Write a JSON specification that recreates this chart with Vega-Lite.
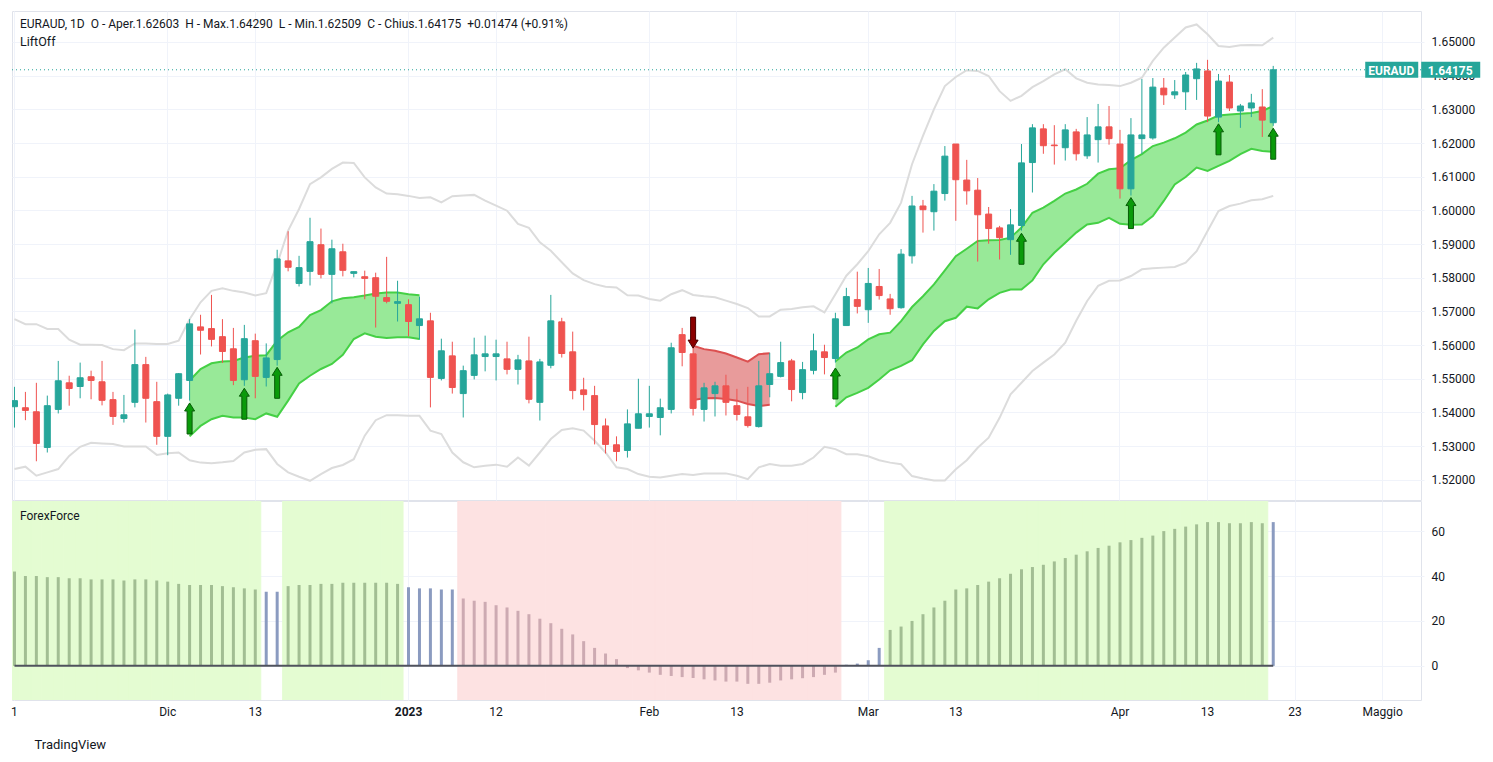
{
"$schema": "https://vega.github.io/schema/vega-lite/v6.json",
"background": "#ffffff",
"padding": {"left": 10, "top": 10, "right": 0, "bottom": 0},
"spacing": 1,
"bounds": "flush",
"config": {
  "font": "Roboto",
  "view": {"stroke": "#e0e3eb", "strokeWidth": 1},
  "axis": {"labelFont": "Roboto", "labelFontSize": 12, "labelColor": "#131722", "gridColor": "#f0f3fa", "gridWidth": 1, "domain": false, "ticks": false, "labelOverlap": false, "labelSeparation": 0},
  "axisY": {"labelOverlap": false},
  "axisRight": {"labelOverlap": false},
  "title": {"font": "Roboto", "subtitleFont": "Roboto"}
},
"datasets": {
"px": [
{"d":"2022-11-11","o":1.5417,"h":1.5476,"l":1.5355,"c":1.5435,"ub":1.5677,"lb":1.5232,"ff":42,"z":"g"},
{"d":"2022-11-14","o":1.5414,"h":1.5461,"l":1.5377,"c":1.5406,"ub":1.5662,"lb":1.5239,"ff":40,"z":"g"},
{"d":"2022-11-15","o":1.5402,"h":1.5488,"l":1.5255,"c":1.5308,"ub":1.5662,"lb":1.5212,"ff":40,"z":"g"},
{"d":"2022-11-16","o":1.5296,"h":1.5450,"l":1.5281,"c":1.5420,"ub":1.5648,"lb":1.5222,"ff":39.5,"z":"g"},
{"d":"2022-11-17","o":1.5409,"h":1.5553,"l":1.5397,"c":1.5494,"ub":1.5648,"lb":1.5232,"ff":39.5,"z":"g"},
{"d":"2022-11-18","o":1.5488,"h":1.5509,"l":1.5420,"c":1.5471,"ub":1.5616,"lb":1.5271,"ff":39,"z":"g"},
{"d":"2022-11-21","o":1.5477,"h":1.5548,"l":1.5442,"c":1.5503,"ub":1.5601,"lb":1.5298,"ff":39,"z":"g"},
{"d":"2022-11-22","o":1.5506,"h":1.5524,"l":1.5439,"c":1.5495,"ub":1.5601,"lb":1.5310,"ff":38.5,"z":"g"},
{"d":"2022-11-23","o":1.5491,"h":1.5553,"l":1.5421,"c":1.5436,"ub":1.5600,"lb":1.5308,"ff":38.5,"z":"g"},
{"d":"2022-11-24","o":1.5438,"h":1.5461,"l":1.5363,"c":1.5388,"ub":1.5588,"lb":1.5306,"ff":38.5,"z":"g"},
{"d":"2022-11-25","o":1.5382,"h":1.5452,"l":1.5370,"c":1.5393,"ub":1.5585,"lb":1.5299,"ff":38,"z":"g"},
{"d":"2022-11-28","o":1.5430,"h":1.5646,"l":1.5415,"c":1.5542,"ub":1.5605,"lb":1.5299,"ff":38.5,"z":"g"},
{"d":"2022-11-29","o":1.5542,"h":1.5565,"l":1.5370,"c":1.5442,"ub":1.5605,"lb":1.5299,"ff":38.5,"z":"g"},
{"d":"2022-11-30","o":1.5432,"h":1.5491,"l":1.5304,"c":1.5329,"ub":1.5603,"lb":1.5274,"ff":38,"z":"g"},
{"d":"2022-12-01","o":1.5329,"h":1.5456,"l":1.5273,"c":1.5452,"ub":1.5603,"lb":1.5279,"ff":37.5,"z":"g"},
{"d":"2022-12-02","o":1.5442,"h":1.5517,"l":1.5420,"c":1.5515,"ub":1.5613,"lb":1.5281,"ff":36.5,"z":"g"},
{"d":"2022-12-05","o":1.5495,"h":1.5677,"l":1.5435,"c":1.5663,"ub":1.5677,"lb":1.5258,"cu":1.5495,"cl":1.5329,"seg":"g1","cz":"g","ff":36,"z":"g","at":1.5428,"dir":"up"},
{"d":"2022-12-06","o":1.5654,"h":1.5690,"l":1.5572,"c":1.5644,"ub":1.5727,"lb":1.5251,"cu":1.5529,"cl":1.5360,"seg":"g1","cz":"g","ff":36,"z":"g"},
{"d":"2022-12-07","o":1.5649,"h":1.5749,"l":1.5596,"c":1.5617,"ub":1.5761,"lb":1.5249,"cu":1.5546,"cl":1.5380,"seg":"g1","cz":"g","ff":36,"z":"g"},
{"d":"2022-12-08","o":1.5625,"h":1.5677,"l":1.5547,"c":1.5581,"ub":1.5769,"lb":1.5252,"cu":1.5551,"cl":1.5390,"seg":"g1","cz":"g","ff":35.5,"z":"g"},
{"d":"2022-12-09","o":1.5589,"h":1.5651,"l":1.5481,"c":1.5495,"ub":1.5761,"lb":1.5256,"cu":1.5553,"cl":1.5385,"seg":"g1","cz":"g","ff":35,"z":"g"},
{"d":"2022-12-12","o":1.5497,"h":1.5660,"l":1.5479,"c":1.5619,"ub":1.5756,"lb":1.5281,"cu":1.5563,"cl":1.5385,"seg":"g1","cz":"g","ff":34.5,"z":"g","at":1.5472,"dir":"up"},
{"d":"2022-12-13","o":1.5613,"h":1.5634,"l":1.5442,"c":1.5507,"ub":1.5747,"lb":1.5289,"cu":1.5568,"cl":1.5380,"seg":"g1","cz":"g","ff":34,"z":"g"},
{"d":"2022-12-14","o":1.5504,"h":1.5605,"l":1.5477,"c":1.5562,"ub":1.5754,"lb":1.5291,"cu":1.5570,"cl":1.5397,"seg":"g1","cz":"g","ff":33,"z":"n"},
{"d":"2022-12-15","o":1.5557,"h":1.5883,"l":1.5539,"c":1.5856,"ub":1.5841,"lb":1.5247,"cu":1.5613,"cl":1.5387,"seg":"g1","cz":"g","ff":33,"z":"n","at":1.5534,"dir":"up"},
{"d":"2022-12-16","o":1.5850,"h":1.5938,"l":1.5819,"c":1.5831,"ub":1.5940,"lb":1.5222,"cu":1.5638,"cl":1.5435,"seg":"g1","cz":"g","ff":35.5,"z":"g"},
{"d":"2022-12-19","o":1.5783,"h":1.5865,"l":1.5774,"c":1.5830,"ub":1.6004,"lb":1.5209,"cu":1.5654,"cl":1.5486,"seg":"g1","cz":"g","ff":36,"z":"g"},
{"d":"2022-12-20","o":1.5819,"h":1.5978,"l":1.5777,"c":1.5907,"ub":1.6078,"lb":1.5197,"cu":1.5689,"cl":1.5509,"seg":"g1","cz":"g","ff":36,"z":"g"},
{"d":"2022-12-21","o":1.5898,"h":1.5946,"l":1.5798,"c":1.5810,"ub":1.6098,"lb":1.5217,"cu":1.5704,"cl":1.5529,"seg":"g1","cz":"g","ff":36.5,"z":"g"},
{"d":"2022-12-22","o":1.5810,"h":1.5913,"l":1.5724,"c":1.5886,"ub":1.6123,"lb":1.5235,"cu":1.5730,"cl":1.5544,"seg":"g1","cz":"g","ff":36.5,"z":"g"},
{"d":"2022-12-23","o":1.5877,"h":1.5901,"l":1.5804,"c":1.5822,"ub":1.6142,"lb":1.5244,"cu":1.5739,"cl":1.5571,"seg":"g1","cz":"g","ff":37,"z":"g"},
{"d":"2022-12-26","o":1.5813,"h":1.5818,"l":1.5801,"c":1.5818,"ub":1.6141,"lb":1.5261,"cu":1.5742,"cl":1.5618,"seg":"g1","cz":"g","ff":37,"z":"g"},
{"d":"2022-12-27","o":1.5803,"h":1.5821,"l":1.5736,"c":1.5798,"ub":1.6098,"lb":1.5331,"cu":1.5747,"cl":1.5635,"seg":"g1","cz":"g","ff":37,"z":"g"},
{"d":"2022-12-28","o":1.5800,"h":1.5815,"l":1.5652,"c":1.5745,"ub":1.6068,"lb":1.5377,"cu":1.5753,"cl":1.5625,"seg":"g1","cz":"g","ff":37,"z":"g"},
{"d":"2022-12-29","o":1.5741,"h":1.5862,"l":1.5724,"c":1.5730,"ub":1.6050,"lb":1.5392,"cu":1.5756,"cl":1.5621,"seg":"g1","cz":"g","ff":37,"z":"g"},
{"d":"2022-12-30","o":1.5724,"h":1.5791,"l":1.5670,"c":1.5729,"ub":1.6048,"lb":1.5392,"cu":1.5756,"cl":1.5623,"seg":"g1","cz":"g","ff":36.5,"z":"g"},
{"d":"2023-01-02","o":1.5720,"h":1.5736,"l":1.5626,"c":1.5670,"ub":1.6043,"lb":1.5390,"cu":1.5751,"cl":1.5623,"seg":"g1","cz":"g","ff":35,"z":"n"},
{"d":"2023-01-03","o":1.5658,"h":1.5744,"l":1.5616,"c":1.5678,"ub":1.6037,"lb":1.5390,"cu":1.5748,"cl":1.5618,"seg":"g1","cz":"g","ff":34.5,"z":"n"},
{"d":"2023-01-04","o":1.5672,"h":1.5696,"l":1.5415,"c":1.5504,"ub":1.6039,"lb":1.5346,"ff":34.5,"z":"n"},
{"d":"2023-01-05","o":1.5501,"h":1.5619,"l":1.5495,"c":1.5583,"ub":1.6024,"lb":1.5336,"ff":34,"z":"n"},
{"d":"2023-01-06","o":1.5568,"h":1.5610,"l":1.5456,"c":1.5474,"ub":1.6042,"lb":1.5281,"ff":34,"z":"n"},
{"d":"2023-01-09","o":1.5456,"h":1.5539,"l":1.5385,"c":1.5524,"ub":1.6044,"lb":1.5252,"ff":30,"z":"r"},
{"d":"2023-01-10","o":1.5510,"h":1.5622,"l":1.5498,"c":1.5571,"ub":1.6046,"lb":1.5237,"ff":29,"z":"r"},
{"d":"2023-01-11","o":1.5566,"h":1.5628,"l":1.5522,"c":1.5574,"ub":1.6029,"lb":1.5242,"ff":28.5,"z":"r"},
{"d":"2023-01-12","o":1.5566,"h":1.5616,"l":1.5495,"c":1.5574,"ub":1.6014,"lb":1.5245,"ff":27,"z":"r"},
{"d":"2023-01-13","o":1.5559,"h":1.5610,"l":1.5513,"c":1.5528,"ub":1.5999,"lb":1.5239,"ff":26,"z":"r"},
{"d":"2023-01-16","o":1.5528,"h":1.5571,"l":1.5483,"c":1.5556,"ub":1.5960,"lb":1.5266,"ff":24.5,"z":"r"},
{"d":"2023-01-17","o":1.5553,"h":1.5625,"l":1.5427,"c":1.5439,"ub":1.5948,"lb":1.5242,"ff":23,"z":"r"},
{"d":"2023-01-18","o":1.5430,"h":1.5559,"l":1.5376,"c":1.5550,"ub":1.5905,"lb":1.5281,"ff":21,"z":"r"},
{"d":"2023-01-19","o":1.5540,"h":1.5749,"l":1.5531,"c":1.5672,"ub":1.5880,"lb":1.5321,"ff":19,"z":"r"},
{"d":"2023-01-20","o":1.5669,"h":1.5681,"l":1.5563,"c":1.5575,"ub":1.5846,"lb":1.5348,"ff":16.5,"z":"r"},
{"d":"2023-01-23","o":1.5580,"h":1.5640,"l":1.5439,"c":1.5465,"ub":1.5813,"lb":1.5353,"ff":14,"z":"r"},
{"d":"2023-01-24","o":1.5467,"h":1.5503,"l":1.5406,"c":1.5453,"ub":1.5793,"lb":1.5346,"ff":11,"z":"r"},
{"d":"2023-01-25","o":1.5450,"h":1.5479,"l":1.5305,"c":1.5364,"ub":1.5781,"lb":1.5316,"ff":8,"z":"r"},
{"d":"2023-01-26","o":1.5360,"h":1.5382,"l":1.5278,"c":1.5305,"ub":1.5773,"lb":1.5281,"ff":5.5,"z":"r"},
{"d":"2023-01-27","o":1.5304,"h":1.5329,"l":1.5255,"c":1.5284,"ub":1.5771,"lb":1.5237,"ff":3,"z":"r"},
{"d":"2023-01-30","o":1.5287,"h":1.5409,"l":1.5266,"c":1.5366,"ub":1.5748,"lb":1.5232,"ff":-1,"z":"r"},
{"d":"2023-01-31","o":1.5353,"h":1.5500,"l":1.5353,"c":1.5396,"ub":1.5747,"lb":1.5217,"ff":-2,"z":"r"},
{"d":"2023-02-01","o":1.5388,"h":1.5479,"l":1.5355,"c":1.5396,"ub":1.5737,"lb":1.5209,"ff":-3,"z":"r"},
{"d":"2023-02-02","o":1.5385,"h":1.5441,"l":1.5332,"c":1.5414,"ub":1.5732,"lb":1.5207,"ff":-4,"z":"r"},
{"d":"2023-02-03","o":1.5409,"h":1.5607,"l":1.5397,"c":1.5592,"ub":1.5751,"lb":1.5212,"ff":-4.5,"z":"r"},
{"d":"2023-02-06","o":1.5631,"h":1.5651,"l":1.5537,"c":1.5578,"ub":1.5763,"lb":1.5217,"ff":-5,"z":"r"},
{"d":"2023-02-07","o":1.5574,"h":1.5598,"l":1.5391,"c":1.5412,"ub":1.5749,"lb":1.5214,"cu":1.5598,"cl":1.5437,"seg":"r1","cz":"r","ff":-5.4,"z":"r","at":1.5591,"dir":"down"},
{"d":"2023-02-08","o":1.5409,"h":1.5488,"l":1.5373,"c":1.5473,"ub":1.5745,"lb":1.5219,"cu":1.5588,"cl":1.5442,"seg":"r1","cz":"r","ff":-6,"z":"r"},
{"d":"2023-02-09","o":1.5456,"h":1.5491,"l":1.5388,"c":1.5479,"ub":1.5742,"lb":1.5219,"cu":1.5583,"cl":1.5443,"seg":"r1","cz":"r","ff":-6.5,"z":"r"},
{"d":"2023-02-10","o":1.5479,"h":1.5512,"l":1.5391,"c":1.5430,"ub":1.5732,"lb":1.5219,"cu":1.5575,"cl":1.5440,"seg":"r1","cz":"r","ff":-7,"z":"r"},
{"d":"2023-02-13","o":1.5420,"h":1.5470,"l":1.5376,"c":1.5394,"ub":1.5722,"lb":1.5212,"cu":1.5563,"cl":1.5435,"seg":"r1","cz":"r","ff":-7,"z":"r"},
{"d":"2023-02-14","o":1.5387,"h":1.5476,"l":1.5355,"c":1.5361,"ub":1.5710,"lb":1.5202,"cu":1.5551,"cl":1.5425,"seg":"r1","cz":"r","ff":-8,"z":"r"},
{"d":"2023-02-15","o":1.5358,"h":1.5553,"l":1.5355,"c":1.5479,"ub":1.5685,"lb":1.5237,"cu":1.5573,"cl":1.5419,"seg":"r1","cz":"r","ff":-8,"z":"r"},
{"d":"2023-02-16","o":1.5483,"h":1.5577,"l":1.5445,"c":1.5515,"ub":1.5685,"lb":1.5247,"cu":1.5576,"cl":1.5423,"seg":"r1","cz":"r","ff":-7.5,"z":"r"},
{"d":"2023-02-17","o":1.5507,"h":1.5610,"l":1.5504,"c":1.5548,"ub":1.5705,"lb":1.5242,"ff":-6.5,"z":"r"},
{"d":"2023-02-20","o":1.5553,"h":1.5559,"l":1.5433,"c":1.5468,"ub":1.5707,"lb":1.5242,"ff":-6,"z":"r"},
{"d":"2023-02-21","o":1.5459,"h":1.5550,"l":1.5439,"c":1.5527,"ub":1.5712,"lb":1.5247,"ff":-5.5,"z":"r"},
{"d":"2023-02-22","o":1.5525,"h":1.5634,"l":1.5513,"c":1.5583,"ub":1.5715,"lb":1.5266,"ff":-5,"z":"r"},
{"d":"2023-02-23","o":1.5580,"h":1.5601,"l":1.5513,"c":1.5563,"ub":1.5697,"lb":1.5298,"ff":-4,"z":"r"},
{"d":"2023-02-24","o":1.5560,"h":1.5696,"l":1.5548,"c":1.5678,"ub":1.5751,"lb":1.5291,"cu":1.5551,"cl":1.5417,"seg":"g2","cz":"g","ff":-3,"z":"r","at":1.5532,"dir":"up"},
{"d":"2023-02-27","o":1.5658,"h":1.5770,"l":1.5658,"c":1.5744,"ub":1.5806,"lb":1.5276,"cu":1.5578,"cl":1.5445,"seg":"g2","cz":"g","ff":0.5,"z":"n"},
{"d":"2023-02-28","o":1.5735,"h":1.5818,"l":1.5694,"c":1.5715,"ub":1.5840,"lb":1.5276,"cu":1.5593,"cl":1.5458,"seg":"g2","cz":"g","ff":1,"z":"n"},
{"d":"2023-03-01","o":1.5705,"h":1.5829,"l":1.5666,"c":1.5783,"ub":1.5879,"lb":1.5270,"cu":1.5617,"cl":1.5473,"seg":"g2","cz":"g","ff":2.5,"z":"n"},
{"d":"2023-03-02","o":1.5774,"h":1.5826,"l":1.5735,"c":1.5747,"ub":1.5929,"lb":1.5258,"cu":1.5632,"cl":1.5498,"seg":"g2","cz":"g","ff":8,"z":"n"},
{"d":"2023-03-03","o":1.5737,"h":1.5752,"l":1.5690,"c":1.5708,"ub":1.5963,"lb":1.5251,"cu":1.5637,"cl":1.5525,"seg":"g2","cz":"g","ff":16,"z":"g"},
{"d":"2023-03-06","o":1.5711,"h":1.5885,"l":1.5708,"c":1.5870,"ub":1.6023,"lb":1.5246,"cu":1.5671,"cl":1.5538,"seg":"g2","cz":"g","ff":17.5,"z":"g"},
{"d":"2023-03-07","o":1.5865,"h":1.6043,"l":1.5842,"c":1.6013,"ub":1.6137,"lb":1.5211,"cu":1.5713,"cl":1.5555,"seg":"g2","cz":"g","ff":20,"z":"g"},
{"d":"2023-03-08","o":1.6013,"h":1.6031,"l":1.5934,"c":1.6002,"ub":1.6221,"lb":1.5204,"cu":1.5745,"cl":1.5602,"seg":"g2","cz":"g","ff":23,"z":"g"},
{"d":"2023-03-09","o":1.5996,"h":1.6078,"l":1.5940,"c":1.6057,"ub":1.6300,"lb":1.5198,"cu":1.5780,"cl":1.5642,"seg":"g2","cz":"g","ff":26,"z":"g"},
{"d":"2023-03-10","o":1.6050,"h":1.6191,"l":1.6029,"c":1.6161,"ub":1.6369,"lb":1.5198,"cu":1.5822,"cl":1.5671,"seg":"g2","cz":"g","ff":29,"z":"g"},
{"d":"2023-03-13","o":1.6197,"h":1.6197,"l":1.5969,"c":1.6091,"ub":1.6396,"lb":1.5231,"cu":1.5864,"cl":1.5681,"seg":"g2","cz":"g","ff":34,"z":"g"},
{"d":"2023-03-14","o":1.6090,"h":1.6150,"l":1.6017,"c":1.6058,"ub":1.6416,"lb":1.5258,"cu":1.5886,"cl":1.5714,"seg":"g2","cz":"g","ff":34.5,"z":"g"},
{"d":"2023-03-15","o":1.6060,"h":1.6096,"l":1.5848,"c":1.5987,"ub":1.6414,"lb":1.5295,"cu":1.5909,"cl":1.5709,"seg":"g2","cz":"g","ff":36,"z":"g"},
{"d":"2023-03-16","o":1.5989,"h":1.6010,"l":1.5901,"c":1.5946,"ub":1.6399,"lb":1.5325,"cu":1.5911,"cl":1.5736,"seg":"g2","cz":"g","ff":37.5,"z":"g"},
{"d":"2023-03-17","o":1.5948,"h":1.5954,"l":1.5854,"c":1.5919,"ub":1.6354,"lb":1.5384,"cu":1.5912,"cl":1.5755,"seg":"g2","cz":"g","ff":39,"z":"g"},
{"d":"2023-03-20","o":1.5913,"h":1.6004,"l":1.5868,"c":1.5957,"ub":1.6325,"lb":1.5454,"cu":1.5919,"cl":1.5765,"seg":"g2","cz":"g","ff":41,"z":"g"},
{"d":"2023-03-21","o":1.5955,"h":1.6197,"l":1.5940,"c":1.6141,"ub":1.6340,"lb":1.5488,"cu":1.5949,"cl":1.5765,"seg":"g2","cz":"g","ff":43,"z":"g","at":1.5932,"dir":"up"},
{"d":"2023-03-22","o":1.6142,"h":1.6256,"l":1.6053,"c":1.6245,"ub":1.6366,"lb":1.5523,"cu":1.5993,"cl":1.5792,"seg":"g2","cz":"g","ff":44,"z":"g"},
{"d":"2023-03-23","o":1.6242,"h":1.6256,"l":1.6168,"c":1.6192,"ub":1.6384,"lb":1.5548,"cu":1.6008,"cl":1.5840,"seg":"g2","cz":"g","ff":45,"z":"g"},
{"d":"2023-03-24","o":1.6194,"h":1.6253,"l":1.6136,"c":1.6192,"ub":1.6404,"lb":1.5572,"cu":1.6028,"cl":1.5874,"seg":"g2","cz":"g","ff":46.5,"z":"g"},
{"d":"2023-03-27","o":1.6186,"h":1.6256,"l":1.6148,"c":1.6239,"ub":1.6419,"lb":1.5607,"cu":1.6050,"cl":1.5904,"seg":"g2","cz":"g","ff":48,"z":"g"},
{"d":"2023-03-28","o":1.6233,"h":1.6242,"l":1.6148,"c":1.6168,"ub":1.6392,"lb":1.5672,"cu":1.6062,"cl":1.5934,"seg":"g2","cz":"g","ff":49.5,"z":"g"},
{"d":"2023-03-29","o":1.6162,"h":1.6277,"l":1.6153,"c":1.6224,"ub":1.6379,"lb":1.5731,"cu":1.6079,"cl":1.5958,"seg":"g2","cz":"g","ff":51,"z":"g"},
{"d":"2023-03-30","o":1.6210,"h":1.6316,"l":1.6142,"c":1.6248,"ub":1.6374,"lb":1.5776,"cu":1.6109,"cl":1.5963,"seg":"g2","cz":"g","ff":52.5,"z":"g"},
{"d":"2023-03-31","o":1.6248,"h":1.6310,"l":1.6195,"c":1.6213,"ub":1.6372,"lb":1.5791,"cu":1.6122,"cl":1.5978,"seg":"g2","cz":"g","ff":53.5,"z":"g"},
{"d":"2023-04-03","o":1.6197,"h":1.6239,"l":1.6035,"c":1.6064,"ub":1.6369,"lb":1.5792,"cu":1.6125,"cl":1.5960,"seg":"g2","cz":"g","ff":55,"z":"g"},
{"d":"2023-04-04","o":1.6064,"h":1.6274,"l":1.6044,"c":1.6224,"ub":1.6379,"lb":1.5805,"cu":1.6149,"cl":1.5957,"seg":"g2","cz":"g","ff":56,"z":"g","at":1.6038,"dir":"up"},
{"d":"2023-04-05","o":1.6213,"h":1.6390,"l":1.6168,"c":1.6224,"ub":1.6394,"lb":1.5825,"cu":1.6167,"cl":1.5958,"seg":"g2","cz":"g","ff":57,"z":"g"},
{"d":"2023-04-06","o":1.6215,"h":1.6393,"l":1.6210,"c":1.6366,"ub":1.6444,"lb":1.5828,"cu":1.6191,"cl":1.5983,"seg":"g2","cz":"g","ff":58,"z":"g"},
{"d":"2023-04-07","o":1.6363,"h":1.6393,"l":1.6313,"c":1.6343,"ub":1.6483,"lb":1.5830,"cu":1.6201,"cl":1.6028,"seg":"g2","cz":"g","ff":60,"z":"g"},
{"d":"2023-04-10","o":1.6343,"h":1.6387,"l":1.6331,"c":1.6352,"ub":1.6513,"lb":1.5832,"cu":1.6214,"cl":1.6077,"seg":"g2","cz":"g","ff":61,"z":"g"},
{"d":"2023-04-11","o":1.6352,"h":1.6411,"l":1.6298,"c":1.6402,"ub":1.6543,"lb":1.5845,"cu":1.6231,"cl":1.6099,"seg":"g2","cz":"g","ff":62,"z":"g"},
{"d":"2023-04-12","o":1.6391,"h":1.6438,"l":1.6328,"c":1.6420,"ub":1.6552,"lb":1.5879,"cu":1.6255,"cl":1.6127,"seg":"g2","cz":"g","ff":63,"z":"g"},
{"d":"2023-04-13","o":1.6414,"h":1.6447,"l":1.6262,"c":1.6280,"ub":1.6523,"lb":1.5939,"cu":1.6267,"cl":1.6117,"seg":"g2","cz":"g","ff":64,"z":"g"},
{"d":"2023-04-14","o":1.6277,"h":1.6405,"l":1.6262,"c":1.6384,"ub":1.6488,"lb":1.5998,"cu":1.6282,"cl":1.6132,"seg":"g2","cz":"g","ff":64,"z":"g","at":1.6257,"dir":"up"},
{"d":"2023-04-17","o":1.6381,"h":1.6402,"l":1.6295,"c":1.6304,"ub":1.6485,"lb":1.6013,"cu":1.6285,"cl":1.6147,"seg":"g2","cz":"g","ff":63.5,"z":"g"},
{"d":"2023-04-18","o":1.6295,"h":1.6316,"l":1.6245,"c":1.6310,"ub":1.6490,"lb":1.6020,"cu":1.6287,"cl":1.6167,"seg":"g2","cz":"g","ff":63.5,"z":"g"},
{"d":"2023-04-19","o":1.6304,"h":1.6346,"l":1.6277,"c":1.6319,"ub":1.6491,"lb":1.6030,"cu":1.6289,"cl":1.6183,"seg":"g2","cz":"g","ff":64,"z":"g"},
{"d":"2023-04-20","o":1.6307,"h":1.6360,"l":1.6218,"c":1.6268,"ub":1.6490,"lb":1.6033,"cu":1.6295,"cl":1.6176,"seg":"g2","cz":"g","ff":63.5,"z":"g"},
{"d":"2023-04-21","o":1.62603,"h":1.64290,"l":1.62509,"c":1.64175,"ub":1.6513,"lb":1.6043,"cu":1.6310,"cl":1.6174,"seg":"g2","cz":"g","ff":64,"z":"n","at":1.6244,"dir":"up"}
],
"last": [{"d":"2023-04-21","c":1.64175,"n":"EURAUD"}],
"fut": [
{"d":"2023-04-22"},{"d":"2023-04-23"},{"d":"2023-04-24"},{"d":"2023-04-25"},{"d":"2023-04-26"},{"d":"2023-04-27"},{"d":"2023-04-28"},{"d":"2023-04-29"},{"d":"2023-04-30"},{"d":"2023-05-01"},{"d":"2023-05-02"},{"d":"2023-05-03"},{"d":"2023-05-04"}
]
},
"resolve": {"scale": {"x": "shared", "fill": "independent", "color": "independent", "stroke": "independent", "shape": "independent"}},
"vconcat": [
{
  "width": 1409,
  "height": 489,
  "title": {"text": "EURAUD, 1D\u00a0 O - Aper.1.62603\u00a0 H - Max.1.64290\u00a0 L - Min.1.62509\u00a0 C - Chius.1.64175\u00a0 +0.01474 (+0.91%)", "subtitle": "LiftOff", "anchor": "start", "frame": "group", "orient": "top", "offset": -38, "dx": 8, "fontSize": 12, "fontWeight": "normal", "color": "#131722", "subtitleFontSize": 12.5, "subtitleColor": "#131722", "subtitlePadding": 5},
  "layer": [
    {
      "data": {"name": "px"},
      "mark": {"type": "line", "color": "#dcdcdc", "strokeWidth": 2, "clip": true},
      "encoding": {
        "x": {"field": "d", "type": "ordinal", "scale": {"type": "band", "range": [-3, 1409], "paddingInner": 0, "paddingOuter": 0},
              "axis": {"labels": false, "ticks": false, "domain": false, "grid": true, "gridColor": "#f0f3fa", "bandPosition": 0.5, "title": null, "labelPadding": 0, "offset": 0, "minExtent": 0, "maxExtent": 0,
                       "values": ["2022-11-11","2022-12-01","2022-12-13","2023-01-02","2023-01-12","2023-02-01","2023-02-13","2023-03-01","2023-03-13","2023-04-03","2023-04-13","2023-04-23","2023-05-01"]}},
        "y": {"field": "ub", "type": "quantitative", "scale": {"domain": [1.514, 1.6592], "nice": false, "zero": false},
              "axis": {"orient": "right", "tickCount": 14, "tickMinStep": 0.01, "format": ".5f", "grid": true, "labelPadding": 10, "labelOverlap": false, "labelSeparation": 0, "labelBound": false, "labelFontSize": 12, "labelBaseline": "middle", "title": null}}
      }
    },
    {
      "data": {"name": "px"},
      "mark": {"type": "line", "color": "#dcdcdc", "strokeWidth": 2, "clip": true},
      "encoding": {"x": {"field": "d", "type": "ordinal"}, "y": {"field": "lb", "type": "quantitative"}}
    },
    {
      "data": {"name": "px"},
      "transform": [{"filter": {"field": "cu", "valid": true}}],
      "mark": {"type": "area", "opacity": 1, "clip": true},
      "encoding": {
        "x": {"field": "d", "type": "ordinal"},
        "y": {"field": "cu", "type": "quantitative"},
        "y2": {"field": "cl"},
        "detail": {"field": "seg"},
        "fill": {"field": "cz", "type": "nominal", "scale": {"domain": ["g","r","up","down"], "range": ["#98e998","#e89b9b","#0a9a0a","#8b0000"]}, "legend": null}
      }
    },
    {
      "data": {"name": "px"},
      "transform": [{"filter": {"field": "cu", "valid": true}}],
      "mark": {"type": "line", "strokeWidth": 2, "clip": true},
      "encoding": {
        "x": {"field": "d", "type": "ordinal"},
        "y": {"field": "cu", "type": "quantitative"},
        "detail": {"field": "seg"},
        "stroke": {"field": "cz", "type": "nominal", "scale": {"domain": ["g","r","up","down"], "range": ["#45d045","#dc5050","#075c07","#4a0000"]}, "legend": null}
      }
    },
    {
      "data": {"name": "px"},
      "transform": [{"filter": {"field": "cl", "valid": true}}],
      "mark": {"type": "line", "strokeWidth": 2, "clip": true},
      "encoding": {
        "x": {"field": "d", "type": "ordinal"},
        "y": {"field": "cl", "type": "quantitative"},
        "detail": {"field": "seg"},
        "stroke": {"field": "cz", "type": "nominal", "legend": null}
      }
    },
    {
      "data": {"name": "last"},
      "mark": {"type": "rule", "color": "#26a69a", "strokeDash": [1, 3], "strokeWidth": 1},
      "encoding": {"y": {"field": "c", "type": "quantitative"}}
    },
    {
      "data": {"name": "px"},
      "mark": {"type": "rule", "strokeWidth": 1, "clip": true},
      "encoding": {
        "x": {"field": "d", "type": "ordinal"},
        "y": {"field": "l", "type": "quantitative"},
        "y2": {"field": "h"},
        "color": {"condition": {"test": "datum.c >= datum.o", "value": "#26a69a"}, "value": "#ef5350"}
      }
    },
    {
      "data": {"name": "px"},
      "mark": {"type": "bar", "width": 6, "strokeWidth": 1, "clip": true},
      "encoding": {
        "x": {"field": "d", "type": "ordinal"},
        "y": {"field": "o", "type": "quantitative"},
        "y2": {"field": "c"},
        "color": {"condition": {"test": "datum.c >= datum.o", "value": "#26a69a"}, "value": "#ef5350"},
        "stroke": {"condition": {"test": "datum.c >= datum.o", "value": "#26a69a"}, "value": "#ef5350"}
      }
    },
    {
      "data": {"name": "px"},
      "transform": [{"filter": {"field": "at", "valid": true}}],
      "mark": {"type": "point", "filled": true, "size": 100, "strokeWidth": 1, "opacity": 1},
      "encoding": {
        "x": {"field": "d", "type": "ordinal"},
        "y": {"field": "at", "type": "quantitative"},
        "shape": {"field": "dir", "type": "nominal", "scale": {"domain": ["up","down"], "range": ["M0,0L1,1.6L0.5,1.6L0.5,6.2L-0.5,6.2L-0.5,1.6L-1,1.6Z", "M0,0L1,-1.6L0.5,-1.6L0.5,-6.2L-0.5,-6.2L-0.5,-1.6L-1,-1.6Z"]}, "legend": null},
        "fill": {"field": "dir", "type": "nominal", "legend": null},
        "stroke": {"field": "dir", "type": "nominal", "legend": null}
      }
    },
    {
      "data": {"name": "last"},
      "mark": {"type": "point", "filled": true, "size": 400, "opacity": 1, "strokeWidth": 0, "color": "#26a69a", "shape": "M9.2,-0.8H14.5V0.8H9.2Z M14.8,-0.8H20.7V0.8H14.8Z"},
      "encoding": {"x": {"field": "d", "type": "ordinal"}, "y": {"field": "c", "type": "quantitative"}}
    },
    {
      "data": {"name": "last"},
      "mark": {"type": "text", "dx": 118, "dy": 1, "color": "#ffffff", "fontSize": 12, "fontWeight": "bold", "align": "center", "baseline": "middle"},
      "encoding": {"x": {"field": "d", "type": "ordinal"}, "y": {"field": "c", "type": "quantitative"}, "text": {"field": "n"}}
    },
    {
      "data": {"name": "last"},
      "mark": {"type": "text", "dx": 177, "dy": 1, "color": "#ffffff", "fontSize": 12, "fontWeight": "bold", "align": "center", "baseline": "middle"},
      "encoding": {"x": {"field": "d", "type": "ordinal"}, "y": {"field": "c", "type": "quantitative"}, "text": {"field": "c", "type": "quantitative", "format": ".5f"}}
    },
    {
      "data": {"name": "fut"},
      "mark": {"type": "point", "opacity": 0},
      "encoding": {"x": {"field": "d", "type": "ordinal"}}
    }
  ]
},
{
  "width": 1409,
  "height": 199,
  "title": {"text": "ForexForce", "anchor": "start", "frame": "group", "orient": "top", "offset": -22, "dx": 8, "fontSize": 12, "fontWeight": "normal", "color": "#131722"},
  "layer": [
    {
      "data": {"name": "px"},
      "mark": {"type": "bar", "clip": true, "strokeWidth": 1},
      "encoding": {
        "x": {"field": "d", "type": "ordinal",
              "axis": {"grid": true, "gridColor": "#f0f3fa", "ticks": false, "domain": false, "bandPosition": 0.5, "labelAngle": 0, "labelPadding": 6, "labelOverlap": false, "labelFlush": false,
                       "values": ["2022-11-11","2022-12-01","2022-12-13","2023-01-02","2023-01-12","2023-02-01","2023-02-13","2023-03-01","2023-03-13","2023-04-03","2023-04-13","2023-04-23","2023-05-01"],
                       "labelExpr": "datum.value=='2022-11-11'?'1':datum.value=='2022-12-01'?'Dic':datum.value=='2023-01-02'?'2023':datum.value=='2023-01-12'?'12':datum.value=='2023-02-01'?'Feb':datum.value=='2023-03-01'?'Mar':datum.value=='2023-04-03'?'Apr':datum.value=='2023-04-23'?'23':datum.value=='2023-05-01'?'Maggio':'13'",
                       "labelFontWeight": {"condition": {"test": "datum.value=='2023-01-02'", "value": "bold"}, "value": "normal"},
                       "title": "TradingView", "titleAnchor": "start", "titleAlign": "left", "titleX": 22, "titleY": 38, "titleBaseline": "top", "titleFontWeight": "normal", "titleFontSize": 13, "titleColor": "#131722"}},
        "fill": {"field": "z", "type": "nominal", "scale": {"domain": ["g","r","n"], "range": ["#e4fcd2","#fde2e2","rgba(255,255,255,0)"]}, "legend": null},
        "stroke": {"field": "z", "type": "nominal", "scale": {"domain": ["g","r","n"], "range": ["#e4fcd2","#fde2e2","rgba(255,255,255,0)"]}, "legend": null}
      }
    },
    {
      "data": {"name": "px"},
      "mark": {"type": "bar", "width": 3, "clip": true},
      "encoding": {
        "x": {"field": "d", "type": "ordinal"},
        "y": {"field": "ff", "type": "quantitative", "scale": {"domain": [-15.2, 73.4], "nice": false, "zero": false},
              "axis": {"orient": "right", "values": [0, 20, 40, 60], "grid": true, "labelPadding": 10, "title": null}},
        "y2": {"datum": 0},
        "color": {"field": "z", "type": "nominal", "scale": {"domain": ["g","r","n"], "range": ["#a2be93","#cdaab2","#8b9bc0"]}, "legend": null}
      }
    },
    {
      "data": {"name": "px"},
      "mark": {"type": "line", "color": "#4f525d", "strokeWidth": 2, "clip": true},
      "encoding": {"x": {"field": "d", "type": "ordinal"}, "y": {"datum": 0, "type": "quantitative"}}
    }
  ]
}
]
}
